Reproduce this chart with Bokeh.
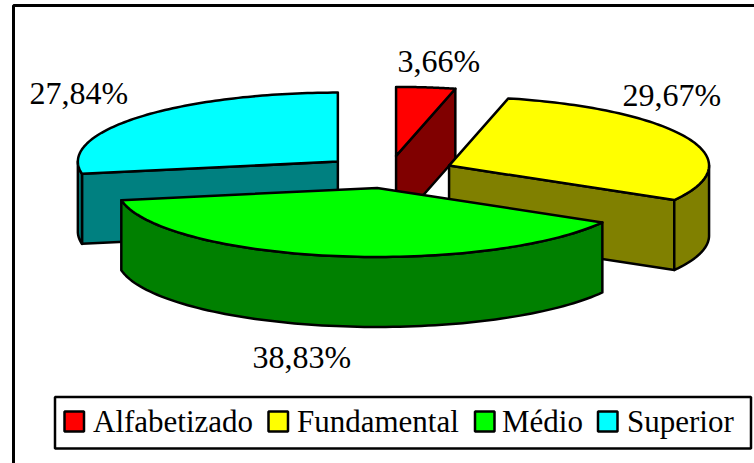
import numpy as np
from bokeh.plotting import figure
from bokeh.models import Range1d
from bokeh.core.properties import value
from bokeh.embed import file_html
from bokeh.resources import INLINE

categories = ["Alfabetizado", "Fundamental", "Médio", "Superior"]
shares = [3.66, 29.67, 38.83, 27.84]
labels = ["3,66%", "29,67%", "38,83%", "27,84%"]
top_colors = ["#ff0000", "#ffff00", "#00ff00", "#00ffff"]
side_colors = ["#800000", "#808000", "#008000", "#008080"]

W, H = 754, 463
CX, CY, RX, RY, DEPTH = 388.0, 171.5, 260.0, 69.0, 70.0
EXPLODE_X, EXPLODE_Y = 66.0, 16.2
FONT = value("Liberation Serif")
TEXT_SHIFT = -11

p = figure(width=W, height=H, output_backend="svg", toolbar_location=None,
           x_range=Range1d(0, W), y_range=Range1d(H, 0), min_border=0,
           outline_line_color=None)
p.axis.visible = False
p.grid.visible = False

# outer frame (runs off the right and bottom of the page)
p.quad(left=13, right=W + 20, top=5, bottom=H + 20, fill_color="white",
       line_color="black", line_width=3)


def arc(ax, ay, t0, t1, dy=0.0):
    t = np.radians(np.linspace(t0, t1, 90))
    return (ax + RX * np.sin(t)).tolist(), (ay - RY * np.cos(t) + dy).tolist()


def shape(xs, ys, color):
    p.patch(xs, ys, fill_color=color, line_color="black", line_width=2.5,
            line_join="round")


ends = np.cumsum(shares) / sum(shares) * 360.0
starts = np.concatenate([[0.0], ends[:-1]])

# back to front: red, cyan, yellow, green
for i in [0, 3, 1, 2]:
    t0, t1 = starts[i], ends[i]
    mid = np.radians((t0 + t1) / 2)
    ax = CX + EXPLODE_X * np.sin(mid)
    ay = CY - EXPLODE_Y * np.cos(mid)

    # radial faces that look towards the viewer
    for ang, visible in ((t1, 0 < t1 < 180), (t0, 180 < t0 < 360)):
        if visible:
            ex, ey = arc(ax, ay, ang, ang)
            ex, ey = ex[0], ey[0]
            shape([ax, ex, ex, ax], [ay, ey, ey + DEPTH, ay + DEPTH], side_colors[i])

    # outer wall
    w0, w1 = max(t0, 90.0), min(t1, 270.0)
    if w1 > w0:
        x1, y1 = arc(ax, ay, w0, w1)
        x2, y2 = arc(ax, ay, w0, w1, DEPTH)
        shape(x1 + x2[::-1], y1 + y2[::-1], side_colors[i])

    # top face
    xa, ya = arc(ax, ay, t0, t1)
    shape([ax] + xa, [ay] + ya, top_colors[i])

# data labels
label_x = [397, 622, 252, 29]
label_y = [71, 105.5, 367, 103.5]
p.text(x=label_x, y=label_y, text=labels, text_font=FONT, text_font_size="32px",
       text_color="black", text_align="left", text_baseline="alphabetic",
       y_offset=TEXT_SHIFT)

# legend
p.quad(left=54.5, right=750.5, top=396.5, bottom=448, fill_color="white",
       line_color="black", line_width=2.5)
swatch_x = [64, 268, 474.5, 597.5]
text_x = [92.5, 296.5, 501.5, 626.5]
p.quad(left=swatch_x, right=[s + 19.5 for s in swatch_x], top=[411] * 4, bottom=[431] * 4,
       fill_color=top_colors, line_color="black", line_width=2.5)
p.text(x=text_x, y=[432] * 4, text=categories, text_font=FONT, text_font_size="31px",
       text_color="black", text_align="left", text_baseline="alphabetic",
       y_offset=TEXT_SHIFT)

open("out.html", "w").write(file_html(p, INLINE))
